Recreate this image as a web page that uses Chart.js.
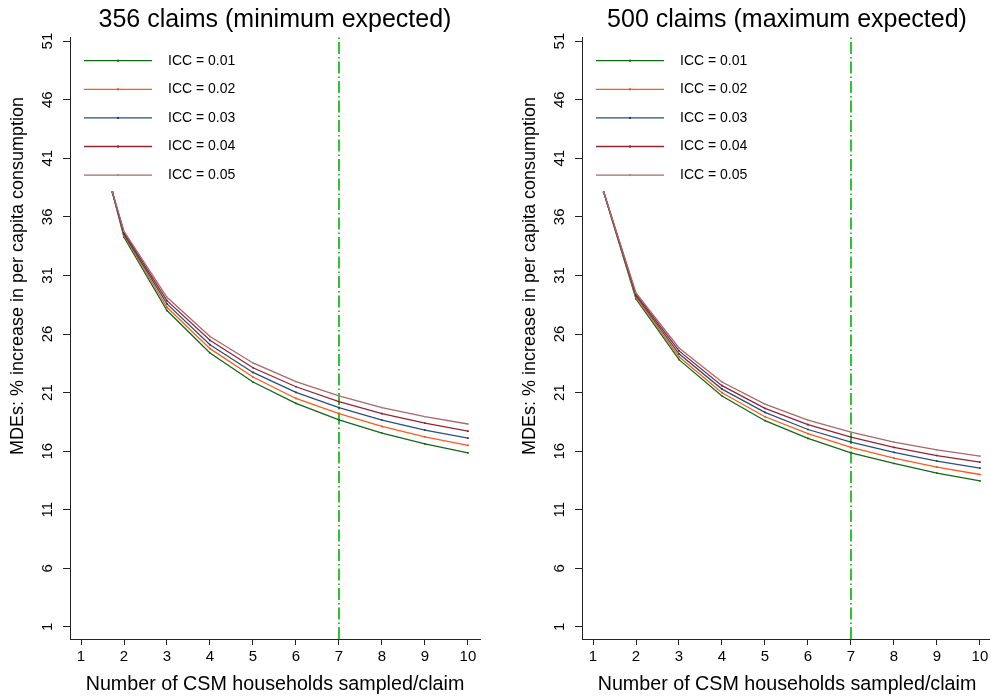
<!DOCTYPE html>
<html>
<head>
<meta charset="utf-8">
<script src="https://cdn.jsdelivr.net/npm/chart.js@4.4.0/dist/chart.umd.min.js"></script>
<style>
  html, body { margin: 0; padding: 0; background: #fff; overflow: hidden; }
  #wrap { position: relative; width: 990px; height: 696px; overflow: hidden; }
  canvas { position: absolute; top: 0; }
  #left { left: 0; }
  #right { left: 512px; }
</style>
</head>
<body>
<div id="wrap">
  <canvas id="left" width="490" height="696"></canvas>
  <canvas id="right" width="490" height="696"></canvas>
</div>
<script>
// values
const iccLabels = ['ICC = 0.01', 'ICC = 0.02', 'ICC = 0.03', 'ICC = 0.04', 'ICC = 0.05'];
const xTicks = [1, 2, 3, 4, 5, 6, 7, 8, 9, 10];
const yTicks = [1, 6, 11, 16, 21, 26, 31, 36, 41, 46, 51];
const cutLine = 7;

const xLeft = [1.73, 2, 3, 4, 5, 6, 7, 8, 9, 10];
const left001 = [38.1, 34.26, 28.00, 24.38, 21.90, 20.08, 18.68, 17.55, 16.63, 15.86];
const left002 = [38.1, 34.40, 28.28, 24.75, 22.33, 20.50, 19.20, 18.11, 17.23, 16.49];
const left003 = [38.1, 34.52, 28.57, 25.09, 22.72, 21.02, 19.71, 18.66, 17.80, 17.12];
const left004 = [38.1, 34.65, 28.85, 25.46, 23.12, 21.50, 20.22, 19.20, 18.40, 17.72];
const left005 = [38.1, 34.77, 29.13, 25.78, 23.53, 21.93, 20.73, 19.71, 18.94, 18.32];

const xRight = [1.25, 2, 3, 4, 5, 6, 7, 8, 9, 10];
const right001 = [38.1, 29.00, 23.81, 20.71, 18.60, 17.09, 15.86, 14.95, 14.13, 13.47];
const right002 = [38.1, 29.13, 24.06, 20.99, 18.94, 17.49, 16.32, 15.41, 14.64, 14.01];
const right003 = [38.1, 29.26, 24.31, 21.30, 19.31, 17.85, 16.78, 15.89, 15.15, 14.56];
const right004 = [38.1, 29.38, 24.56, 21.59, 19.65, 18.26, 17.20, 16.32, 15.63, 15.07];
const right005 = [38.1, 29.51, 24.81, 21.90, 20.02, 18.66, 17.63, 16.78, 16.12, 15.58];

const yTitle = 'MDEs: % increase in per capita consumption';
const xTitle = 'Number of CSM households sampled/claim';

const lineColors = ['#0f6a14', '#ff5a1a', '#264f80', '#962431', '#a8686b'];
const pointColors = ['#1c6a1c', '#ff4a10', '#1d3f68', '#8a2030', '#7f9d94'];

const FONT = '"Liberation Sans", Arial, Helvetica, sans-serif';
const Y_MIN = -0.03, Y_MAX = 51.35;

// plot title and y-axis title (Stata puts the y title a bit above centre)
const textPlugin = {
  id: 'plotTexts',
  afterDraw(chart) {
    const ctx = chart.ctx, a = chart.chartArea;
    ctx.save();
    ctx.fillStyle = '#000';
    ctx.font = '25px ' + FONT;
    ctx.textAlign = 'center';
    ctx.textBaseline = 'alphabetic';
    ctx.fillText(chart.options.plugins.plotTexts.text, (a.left + a.right) / 2, 27);

    ctx.font = '18px ' + FONT;
    ctx.textBaseline = 'middle';
    ctx.translate(18, a.top + 239);
    ctx.rotate(-Math.PI / 2);
    ctx.fillText(yTitle, 0, 0);
    ctx.restore();
  }
};

const legendPlugin = {
  id: 'iccLegend',
  afterDatasetsDraw(chart) {
    const ctx = chart.ctx, a = chart.chartArea;
    ctx.save();
    ctx.font = '14px ' + FONT;
    ctx.textBaseline = 'middle';
    iccLabels.forEach((lab, i) => {
      const y = a.top + 23.7 + i * 28.6;
      const x0 = a.left + 14, x1 = a.left + 82;
      ctx.strokeStyle = lineColors[i];
      ctx.lineWidth = 1.3;
      ctx.beginPath();
      ctx.moveTo(x0, y);
      ctx.lineTo(x1, y);
      ctx.stroke();
      ctx.fillStyle = pointColors[i];
      ctx.fillRect((x0 + x1) / 2 - 1, y - 1, 2, 2);
      ctx.fillStyle = '#000';
      ctx.fillText(lab, a.left + 98, y);
    });
    ctx.restore();
  }
};

function makeChart(id, title, xs, series) {
  const datasets = series.map((vals, i) => ({
    label: iccLabels[i],
    data: vals.map((v, j) => ({x: xs[j], y: v})),
    borderColor: lineColors[i],
    backgroundColor: pointColors[i],
    borderWidth: 1.3,
    pointStyle: 'rect',
    pointRadius: 1.2,
    pointBorderWidth: 0,
    pointBackgroundColor: pointColors[i],
    order: 4 - i
  }));
  datasets.push({
    label: 'cut',
    data: [{x: cutLine, y: Y_MIN}, {x: cutLine, y: Y_MAX}],
    borderColor: '#2fc42f',
    borderWidth: 2,
    borderDash: [12, 3, 1.5, 3],
    pointRadius: 0,
    order: 10
  });

  return new Chart(document.getElementById(id), {
    type: 'line',
    data: { datasets: datasets },
    options: {
      responsive: false,
      animation: false,
      layout: { padding: { top: 37, right: 10, left: 0, bottom: 0 } },
      plugins: {
        legend: { display: false },
        tooltip: { enabled: false },
        plotTexts: { text: title }
      },
      scales: {
        x: {
          type: 'linear',
          min: 0.744,
          max: 10.28,
          afterBuildTicks: s => { s.ticks = xTicks.map(v => ({value: v})); },
          afterFit: s => { s.height = 57; },
          border: { color: '#222', width: 1 },
          grid: { drawOnChartArea: false, drawTicks: true, tickLength: 6, color: '#222' },
          ticks: { autoSkip: false, maxRotation: 0, padding: 3, color: '#000', font: { family: FONT, size: 15 } },
          title: { display: true, text: xTitle, color: '#000',
                   font: { family: FONT, size: 19.7 }, padding: { top: 0, bottom: 0 } }
        },
        y: {
          min: Y_MIN,
          max: Y_MAX,
          afterBuildTicks: s => { s.ticks = yTicks.map(v => ({value: v})); },
          afterFit: s => { s.width = 70; },
          border: { color: '#222', width: 1 },
          grid: { drawOnChartArea: false, drawTicks: true, tickLength: 7, color: '#222' },
          ticks: { autoSkip: false, minRotation: 90, maxRotation: 90, crossAlign: 'center', padding: 7,
                   color: '#000', font: { family: FONT, size: 15 } }
        }
      }
    },
    plugins: [textPlugin, legendPlugin]
  });
}

makeChart('left', '356 claims (minimum expected)', xLeft, [left001, left002, left003, left004, left005]);
makeChart('right', '500 claims (maximum expected)', xRight, [right001, right002, right003, right004, right005]);
</script>
</body>
</html>
